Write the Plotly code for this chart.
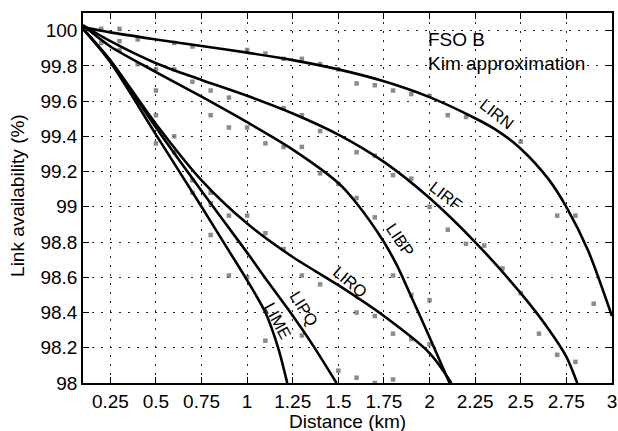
import plotly.graph_objects as go

# ---- curve data (Kim approximation, FSO B) ----
lirn_x = [0.1, 0.25, 0.5, 0.75, 1.0, 1.25, 1.5, 1.75, 2.0, 2.25, 2.375, 2.5, 2.65, 2.75, 2.87, 3.0]
lirn_y = [100.02, 99.99, 99.95, 99.9125, 99.875, 99.8325, 99.78, 99.7125, 99.6225, 99.5025, 99.43, 99.33,
          99.16, 99.0, 98.75, 98.38]

lirf_x = [0.1, 0.25, 0.5, 0.75, 1.0, 1.25, 1.5, 1.75, 2.0, 2.25, 2.5, 2.65, 2.75, 2.81]
lirf_y = [100.03, 99.94, 99.815, 99.72, 99.63, 99.53, 99.41, 99.255, 99.05, 98.80, 98.51, 98.31, 98.15, 98.0]

libp_x = [0.1, 0.25, 0.5, 0.75, 1.0, 1.25, 1.5, 1.6, 1.75, 1.82, 1.9, 2.0, 2.11]
libp_y = [100.03, 99.91, 99.765, 99.625, 99.48, 99.325, 99.135, 99.02, 98.80, 98.67, 98.49, 98.26, 98.0]

lirq_x = [0.1, 0.25, 0.5, 0.75, 1.0, 1.25, 1.5, 1.75, 2.0, 2.12]
lirq_y = [100.01, 99.83, 99.47, 99.15, 98.905, 98.715, 98.555, 98.38, 98.17, 98.0]

lipq_x = [0.1, 0.25, 0.5, 0.75, 1.0, 1.1, 1.22, 1.36, 1.49]
lipq_y = [100.01, 99.83, 99.45, 99.09, 98.74, 98.595, 98.425, 98.215, 98.0]

lime_x = [0.1, 0.25, 0.5, 0.75, 0.9, 0.99, 1.1, 1.17, 1.22]
lime_y = [100.01, 99.82, 99.41, 99.0, 98.75, 98.6, 98.4, 98.2, 98.0]

curve_names = ["LIRN", "LIRF", "LIBP", "LIRQ", "LIPQ", "LIME"]

# ---- simulated points (grey squares) ----
sim_x = [0.2, 0.3, 0.2, 0.3, 0.3, 0.4, 0.4, 0.5, 0.5, 0.5, 0.5, 0.6, 0.6, 0.6, 0.6,
         0.7, 0.7, 0.7, 0.7, 0.8, 0.8, 0.8, 0.8, 0.8, 0.9, 0.9, 0.9, 0.9, 1.0, 1.0, 1.0, 1.0,
         1.1, 1.1, 1.1, 1.1, 1.2, 1.2, 1.2, 1.2, 1.3, 1.3, 1.3, 1.3, 1.3,
         1.4, 1.4, 1.4, 1.4, 1.5, 1.5, 1.5, 1.6, 1.6, 1.6, 1.6, 1.6,
         1.7, 1.7, 1.7, 1.7, 1.7, 1.8, 1.8, 1.8, 1.8, 1.8, 1.9, 1.9, 1.9, 1.9,
         2.0, 2.0, 2.0, 2.0, 2.1, 2.1, 2.2, 2.2, 2.3, 2.4, 2.5, 2.5, 2.6,
         2.7, 2.7, 2.8, 2.8, 2.9]
sim_y = [100.01, 100.01, 99.93, 99.94, 99.89, 99.95, 99.81, 99.78, 99.66, 99.52, 99.36, 99.93, 99.78, 99.40, 99.31,
         99.91, 99.71, 99.15, 99.08, 99.66, 99.52, 99.02, 98.84, 99.08, 99.62, 99.45, 98.95, 98.61, 99.89, 99.45, 98.95, 98.60,
         99.87, 99.36, 98.85, 98.24, 99.84, 99.56, 99.34, 98.76, 99.84, 99.52, 99.34, 98.61, 98.27,
         99.81, 99.43, 99.19, 98.56, 99.78, 99.13, 98.07, 99.70, 99.31, 99.05, 98.40, 98.03,
         99.69, 99.29, 98.94, 98.38, 98.0, 99.66, 99.18, 98.61, 98.28, 98.02, 99.64, 99.16, 98.50, 98.25,
         99.63, 99.0, 98.47, 98.22, 99.52, 98.87, 99.51, 98.79, 98.78, 98.65, 99.37, 98.51, 98.28,
         98.95, 98.16, 98.95, 98.12, 98.45]

# ---- axis ticks ----
x_ticks = [0.25, 0.5, 0.75, 1.0, 1.25, 1.5, 1.75, 2.0, 2.25, 2.5, 2.75, 3.0]
x_labels = ["0.25", "0.5", "0.75", "1", "1.25", "1.5", "1.75", "2", "2.25", "2.5", "2.75", "3"]
y_ticks = [98.0, 98.2, 98.4, 98.6, 98.8, 99.0, 99.2, 99.4, 99.6, 99.8, 100.0]
y_labels = ["98", "98.2", "98.4", "98.6", "98.8", "99", "99.2", "99.4", "99.6", "99.8", "100"]

# ---- curve labels: (x, y, angle) ----
label_x = [2.37, 2.092, 1.84, 1.567, 1.314, 1.168]
label_y = [99.525, 99.06, 98.81, 98.574, 98.42, 98.35]
label_angle = [38, 38, 56, 40, 58, 62]

FONT = "Liberation Sans, Arial, Helvetica, sans-serif"

fig = go.Figure()

fig.add_trace(go.Scatter(x=sim_x, y=sim_y, mode="markers",
                         marker=dict(symbol="square", size=4.5, color="rgba(110,110,110,0.8)"),
                         showlegend=False, hoverinfo="skip"))

for xs, ys in [(lirn_x, lirn_y), (lirf_x, lirf_y), (libp_x, libp_y),
               (lirq_x, lirq_y), (lipq_x, lipq_y), (lime_x, lime_y)]:
    fig.add_trace(go.Scatter(x=xs, y=ys, mode="lines",
                             line=dict(color="black", width=2.6, shape="spline", smoothing=0.8),
                             showlegend=False))

annotations = []
for name, lx, ly, ang in zip(curve_names, label_x, label_y, label_angle):
    annotations.append(dict(x=lx, y=ly, xref="x", yref="y", text=name, showarrow=False,
                            textangle=ang, font=dict(size=16.5, color="black", family=FONT)))

annotations.append(dict(x=1.978, y=99.947, xref="x", yref="y", text="FSO B", showarrow=False,
                        xanchor="left", yanchor="middle", font=dict(size=19, color="black", family=FONT)))
annotations.append(dict(x=1.978, y=99.816, xref="x", yref="y", text="Kim approximation", showarrow=False,
                        xanchor="left", yanchor="middle", font=dict(size=19, color="black", family=FONT)))
annotations.append(dict(x=0.5, y=-0.1036, xref="paper", yref="paper", text="Distance (km)", showarrow=False,
                        xanchor="center", yanchor="middle", font=dict(size=19, color="black", family=FONT)))
annotations.append(dict(x=-0.1226, y=0.506, xref="paper", yref="paper", text="Link availability (%)",
                        showarrow=False, textangle=-90, xanchor="center", yanchor="middle",
                        font=dict(size=19, color="black", family=FONT)))

axis_common = dict(showline=True, mirror="ticks", linecolor="black", linewidth=1.5,
                   ticks="inside", ticklen=6, tickwidth=1.3, tickcolor="black",
                   showgrid=True, gridcolor="#222222", gridwidth=1, griddash="2px,7px",
                   zeroline=False, ticklabeloverflow="allow",
                   tickfont=dict(size=19, color="black", family=FONT))

fig.update_layout(
    width=618, height=431,
    margin=dict(l=83, r=1, t=13, b=48),
    paper_bgcolor="white", plot_bgcolor="white",
    xaxis=dict(range=[0.1, 3.0005], tickvals=x_ticks, ticktext=x_labels, **axis_common),
    yaxis=dict(range=[98.0, 100.1], tickvals=y_ticks, ticktext=y_labels, **axis_common),
    annotations=annotations,
    font=dict(family=FONT, color="black"),
)

fig.write_html("out.html")
